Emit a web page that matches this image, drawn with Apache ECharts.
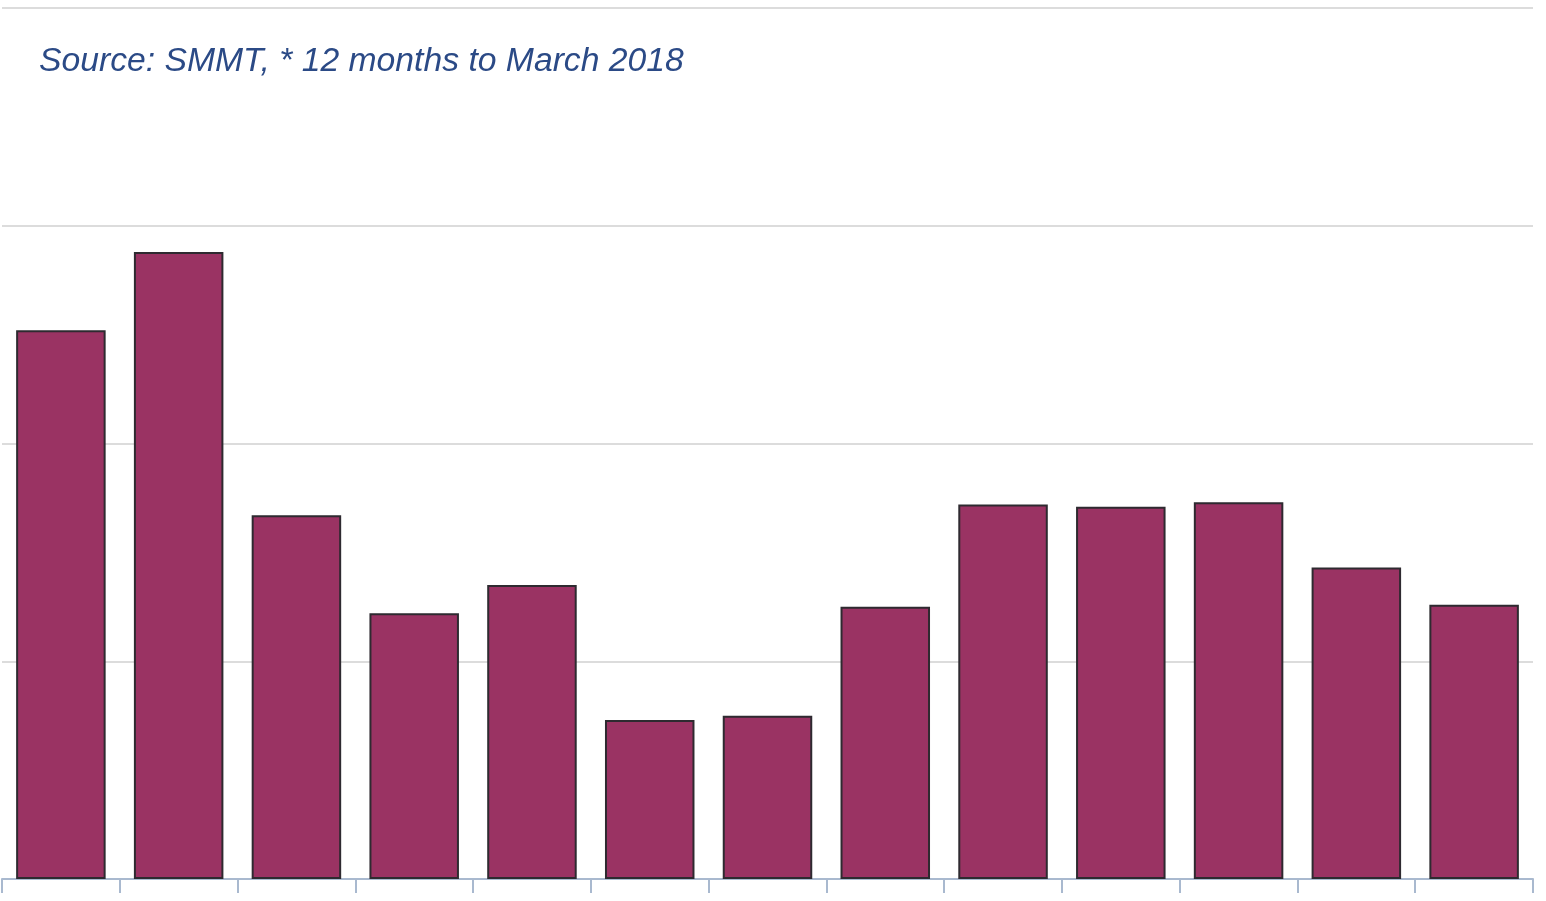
<!DOCTYPE html>
<html>
<head>
<meta charset="utf-8">
<script src="https://cdn.jsdelivr.net/npm/echarts@6/dist/echarts.min.js"></script>
<style>
  html, body { margin: 0; padding: 0; background: #fff; }
  #chart { width: 1546px; height: 901px; }
</style>
</head>
<body>
<div id="chart"></div>
<script>
    // categories are unlabelled in the source picture
    const categories = ['1', '2', '3', '4', '5', '6', '7', '8', '9', '10', '11', '12', '13'];
    const values = [2.52, 2.88, 1.67, 1.22, 1.35, 0.73, 0.75, 1.25, 1.72, 1.71, 1.73, 1.43, 1.26];
    const sourceNote = 'Source: SMMT, * 12 months to March 2018';

    const chart = echarts.init(document.getElementById('chart'));
    chart.setOption({
        backgroundColor: '#fff',
        animation: false,
        title: {
            text: sourceNote,
            left: 34,
            top: 40,
            textStyle: {
                color: '#2b4a86',
                fontStyle: 'italic',
                fontWeight: 'normal',
                fontSize: 33.7,
                fontFamily: 'Liberation Sans, Arial, sans-serif'
            }
        },
        grid: { left: 2, right: 13, top: 8, bottom: 22 },
        xAxis: {
            type: 'category',
            data: categories,
            axisLine: { lineStyle: { color: '#a9b9cf', width: 2 } },
            axisTick: { show: true, length: 14, lineStyle: { color: '#a9b9cf', width: 2 } },
            axisLabel: { show: false }
        },
        yAxis: {
            type: 'value',
            min: 0,
            max: 4,
            interval: 1,
            axisLabel: { show: false },
            axisLine: { show: false },
            axisTick: { show: false },
            splitLine: { lineStyle: { color: '#dcdcdc', width: 2 } }
        },
        series: [
            {
                type: 'bar',
                data: values,
                barWidth: '76%',
                itemStyle: {
                    color: '#9a3363',
                    borderColor: '#2e2a30',
                    borderWidth: 2
                }
            }
        ]
    });
</script>
</body>
</html>
